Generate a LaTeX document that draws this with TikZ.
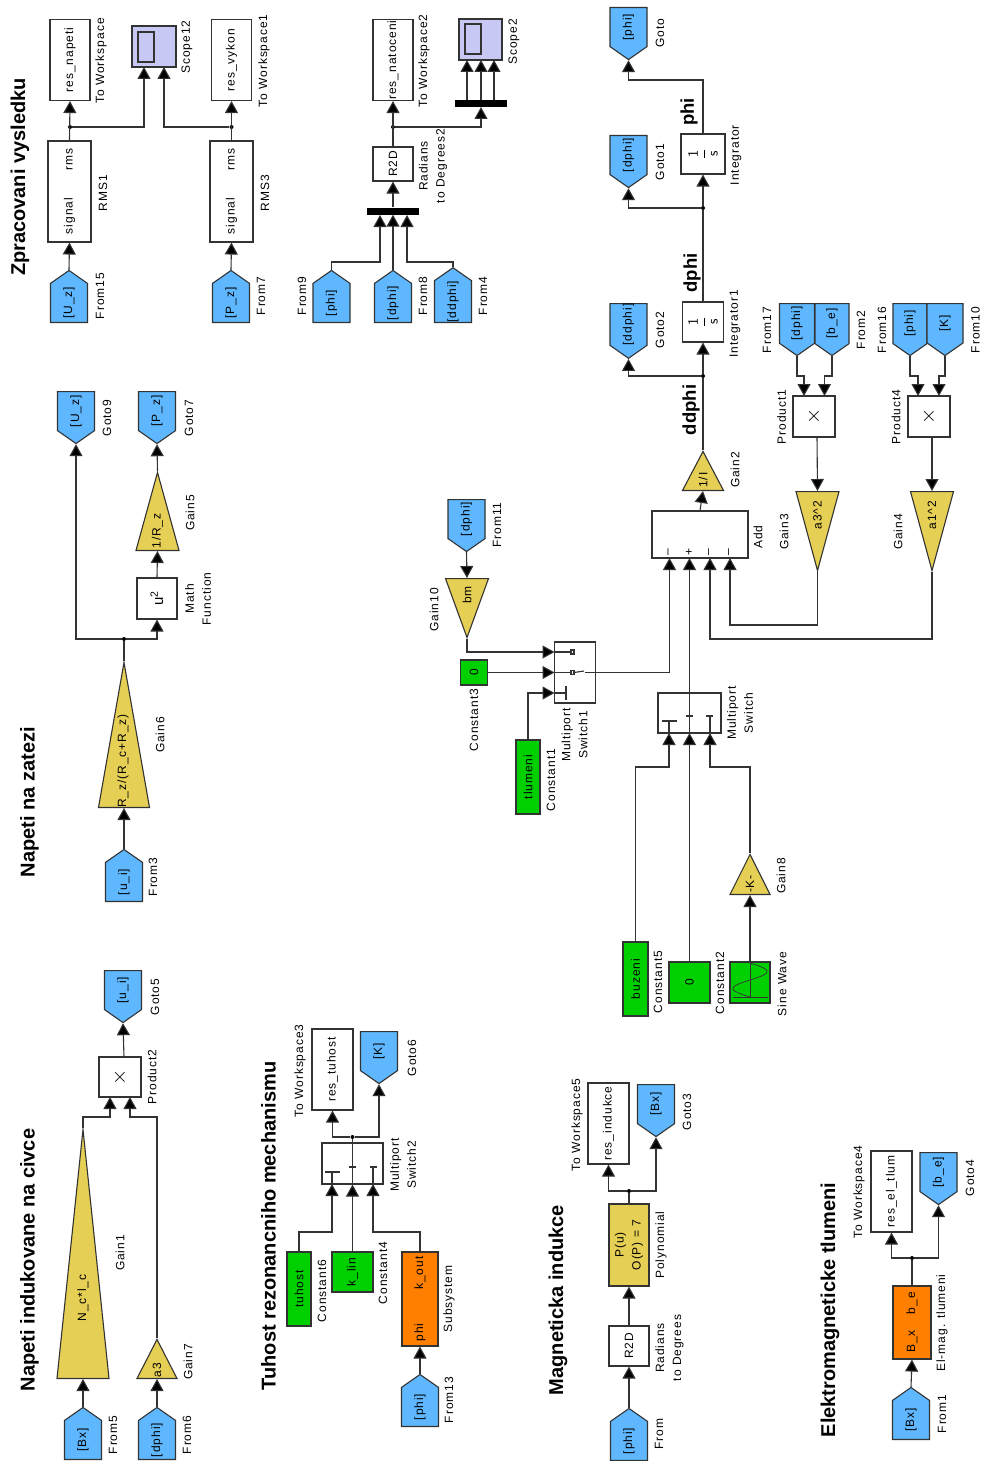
\documentclass[tikz,border=0pt]{standalone}
\usepackage{fontspec}
\setmainfont{Liberation Sans}
\newfontfamily\labfont[LetterSpace=8]{Liberation Sans}
\usetikzlibrary{arrows.meta,shapes.geometric,shapes.symbols}
\definecolor{wirecol}{HTML}{333333}
\definecolor{tagblue}{HTML}{5FB8FF}
\definecolor{gainyellow}{HTML}{E6CF55}
\definecolor{constgreen}{HTML}{00D000}
\definecolor{suborange}{HTML}{FF8000}
\definecolor{scopeblue}{HTML}{C8C8F5}
\tikzset{
  wire/.style = {draw = wirecol, line width = 1.1pt},
  sig/.style = {wire, -{Triangle[length = 12pt, width = 13pt, fill = black]}},
  smalltext/.style = {font = \labfont\fontsize{12}{17}\selectfont},
  lab/.style = {rotate = 90, inner sep = 0pt, align = center, smalltext},
  head/.style = {rotate = 90, inner sep = 0pt, font = \fontsize{20}{22}\bfseries},
  sighead/.style = {rotate = 90, inner sep = 0pt, font = \fontsize{18.5}{20}\bfseries},
  dims/.style 2 args = {minimum width = #1pt, minimum height = #2pt},
  blk/.style = {wire, fill = white, rotate = 90, inner sep = 0pt, align = center, smalltext},
  wsbox/.style = {blk, dims = {81}{40}},
  gainbox/.style = {blk, fill = gainyellow},
  constbox/.style = {blk, fill = constgreen},
  subbox/.style = {blk, fill = suborange},
  scopebox/.style = {blk, fill = scopeblue},
  bus/.style = {fill = black, rotate = 90, inner sep = 0pt, dims = {7}{52}},
  dot/.style = {circle, fill = black, inner sep = 0pt, minimum size = 4pt},
  tag/.style = {signal, wire, fill = tagblue, rotate = 90, inner sep = 0pt, smalltext,
    signal pointer angle = 110, signal from = nowhere, dims = {52}{37}},
  fromtag/.style = {tag, signal to = east, anchor = west},
  gototag/.style = {tag, signal to = west, anchor = east},
  gainup/.style 2 args = {isosceles triangle, isosceles triangle stretches, wire, fill = gainyellow,
    rotate = 90, inner sep = 0pt, anchor = lower side,
    minimum height = #1pt, minimum width = #2pt},
  gaindown/.style 2 args = {gainup = {#1}{#2}, shape border rotate = 180}
}
\begin{document}
\begin{tikzpicture}[x = 1pt, y = -1pt]
    \path [use as bounding box, fill = white] (0,0) rectangle (982,1461);

    % Zpracovani vysledku
    \node [head] (title1) at (20,177) {Zpracovani vysledku};
    \node [fromtag] (from15) at (69,323) {[U\_z]};
    \node [lab] (from15lab) at (100,296) {From15};
    \node [blk, dims = {101}{43}] (rms1) at (69.5,191.5) {signal\hspace{27pt}rms};
    \node [lab] (rms1lab) at (103,193) {RMS1};
    \node [wsbox] (resnapeti) at (70,60) {res\_napeti};
    \node [lab] (resnapetilab) at (101,61) {To Workspace};
    \node [scopebox, dims = {41}{44}] (scope12) at (154,46.5) {};
    \draw [wire] (138,32) rectangle (154,62);
    \node [lab] (scope12lab) at (187,47) {Scope12};
    \node [dot] (j1) at (70,127) {};
    \coordinate (scope12a) at (144,67);
    \coordinate (scope12b) at (164,67);
    \draw [sig] (from15.east) -- (rms1.west);
    \draw [sig] (rms1.east) -- (resnapeti.west);
    \draw [sig] (j1) -| (scope12a);

    \node [fromtag] (from7) at (231,323) {[P\_z]};
    \node [lab] (from7lab) at (261,296) {From7};
    \node [blk, dims = {101}{43}] (rms3) at (231.5,191.5) {signal\hspace{27pt}rms};
    \node [lab] (rms3lab) at (265,193) {RMS3};
    \node [wsbox] (resvykon) at (231.5,60) {res\_vykon};
    \node [lab] (resvykonlab) at (264,61) {To Workspace1};
    \node [dot] (j2) at (231.5,127) {};
    \draw [sig] (from7.east) -- (rms3.west);
    \draw [sig] (rms3.east) -- (resvykon.west);
    \draw [sig] (j2) -| (scope12b);

    \node [fromtag] (from9) at (331.5,323) {[phi]};
    \node [lab] (from9lab) at (302,296) {From9};
    \node [fromtag] (from8) at (393,323) {[dphi]};
    \node [lab] (from8lab) at (423,296) {From8};
    \node [fromtag] (from4) at (453,323) {[ddphi]};
    \node [lab] (from4lab) at (483,296) {From4};
    \node [bus] (mux1) at (393,211) {};
    \coordinate (mux1a) at (380,215);
    \coordinate (mux1c) at (407,215);
    \draw [sig] (from9.east) |- (371,262) -| (mux1a);
    \draw [sig] (from8.east) -- (mux1.west);
    \draw [sig] (from4.east) |- (416,262) -| (mux1c);
    \node [blk, dims = {34}{40}] (r2d1) at (393,164) {R2D};
    \node [lab] (r2d1lab) at (433,166) {Radians\\to Degrees2};
    \node [wsbox] (resnatoceni) at (393,60) {res\_natoceni};
    \node [lab] (resnatocenilab) at (424,61) {To Workspace2};
    \node [dot] (j3) at (393,127) {};
    \node [bus] (mux2) at (481,103.5) {};
    \coordinate (mux2in) at (481,107);
    \node [scopebox, dims = {41}{43}] (scope2) at (480.5,39.5) {};
    \draw [wire] (465,24) rectangle (481,54);
    \node [lab] (scope2lab) at (514,42) {Scope2};
    \coordinate (scope2a) at (467,60);
    \coordinate (scope2b) at (481,60);
    \coordinate (scope2c) at (494,60);
    \draw [sig] (mux1.east) -- (r2d1.west);
    \draw [sig] (r2d1.east) -- (resnatoceni.west);
    \draw [sig] (j3) -| (mux2in);
    \draw [sig] (467,100) -- (scope2a);
    \draw [sig] (481,100) -- (scope2b);
    \draw [sig] (494,100) -- (scope2c);

    % Napeti na zatezi
    \node [head] (title2) at (29.5,802) {Napeti na zatezi};
    \node [fromtag] (from3) at (124,902) {[u\_i]};
    \node [lab] (from3lab) at (153,877) {From3};
    \node [gainup = {145}{51}] (gain6) at (124,808) {};
    \node [lab] (gain6txt) at (123,761) {R\_z/(R\_c+R\_z)};
    \node [lab] (gain6lab) at (160,735) {Gain6};
    \node [dot] (j4) at (124,639) {};
    \node [blk, dims = {41}{40}] (math1) at (157,598.5) {\fontsize{15}{15}\selectfont u\textsuperscript{2}};
    \node [lab] (math1lab) at (198,599) {Math\\Function};
    \node [gainup = {78}{43}] (gain5) at (157.5,551) {};
    \node [lab] (gain5txt) at (157.5,531) {1/R\_z};
    \node [lab] (gain5lab) at (190,513) {Gain5};
    \node [gototag] (goto9) at (76,391) {[U\_z]};
    \node [lab] (goto9lab) at (107,418) {Goto9};
    \node [gototag] (goto7) at (157,391) {[P\_z]};
    \node [lab] (goto7lab) at (189,418) {Goto7};
    \draw [sig] (from3.east) -- (gain6.lower side);
    \draw [wire] (gain6.apex) -- (j4);
    \draw [sig] (j4) -| (goto9.west);
    \draw [sig] (j4) -| (math1.west);
    \draw [sig] (math1.east) -- (gain5.lower side);
    \draw [sig] (gain5.apex) -- (goto7.west);

    % Napeti indukovane na civce
    \node [head] (title3) at (29.5,1260) {Napeti indukovane na civce};
    \node [fromtag] (from5) at (83,1460) {[Bx]};
    \node [lab] (from5lab) at (113,1435) {From5};
    \node [gainup = {249}{52}] (gain1) at (83,1379) {};
    \node [lab] (gain1txt) at (83,1298) {N\_c*l\_c};
    \node [lab] (gain1lab) at (120,1253) {Gain1};
    \node [fromtag] (from6) at (157,1460) {[dphi]};
    \node [lab] (from6lab) at (187,1435) {From6};
    \node [gainup = {39}{40}] (gain7) at (157,1379) {};
    \node [lab] (gain7txt) at (157,1370) {a3};
    \node [lab] (gain7lab) at (188,1362) {Gain7};
    \node [blk, dims = {40}{42}] (product2) at (120,1077) {\huge$\times$};
    \node [lab] (product2lab) at (152,1077) {Product2};
    \node [gototag] (goto5) at (123,970) {[u\_i]};
    \node [lab] (goto5lab) at (155,997) {Goto5};
    \coordinate (product2a) at (110,1097);
    \coordinate (product2b) at (130,1097);
    \draw [sig] (from5.east) -- (gain1.lower side);
    \draw [sig] (from6.east) -- (gain7.lower side);
    \draw [sig] (gain1.apex) |- (96,1117) -| (product2a);
    \draw [sig] (gain7.apex) |- (144,1117) -| (product2b);
    \draw [sig] (124,1057) -- (goto5.west);

    % Tuhost rezonancniho mechanismu
    \node [head] (title4) at (268.5,1226) {Tuhost rezonancniho mechanismu};
    \node [constbox, dims = {74}{24}] (const6) at (299,1289) {tuhost};
    \node [lab] (const6lab) at (322,1291) {Constant6};
    \node [constbox, dims = {40}{41}] (const4) at (352.5,1272) {k\_lin};
    \node [lab] (const4lab) at (383,1273) {Constant4};
    \node [subbox, dims = {94}{36}] (subsys) at (420,1299) {phi\hspace{34pt}k\_out};
    \node [lab] (subsyslab) at (449,1299) {Subsystem};
    \node [fromtag] (from13) at (420,1427) {[phi]};
    \node [lab] (from13lab) at (449,1400) {From13};
    \node [blk, dims = {41}{61}] (switch2) at (352.5,1163.5) {};
    \draw [wire] (325,1172) -- (340,1172) (332,1172) -- (332,1184);
    \draw [wire, line width = 2pt] (349,1167) -- (356,1167) (370,1167) -- (377,1167);
    \draw [wire] (373,1167) -- (373,1184);
    \node [lab] (switch2lab) at (403,1165) {Multiport\\Switch2};
    \node [dot] (j5) at (352.5,1137) {};
    \node [blk, dims = {81}{41}] (restuhost) at (332.5,1069.5) {res\_tuhost};
    \node [lab] (restuhostlab) at (300,1071) {To Workspace3};
    \node [gototag] (goto6) at (379,1031) {[K]};
    \node [lab] (goto6lab) at (412,1058) {Goto6};
    \coordinate (switch2a) at (332,1184);
    \coordinate (switch2c) at (373,1184);
    \draw [sig] (from13.east) -- (subsys.west);
    \draw [sig] (const6.east) |- (315,1232) -| (switch2a);
    \draw [sig] (const4.east) -- (switch2.west);
    \draw [sig] (subsys.east) |- (397,1232) -| (switch2c);
    \draw [wire] (switch2.west) -- (j5);
    \draw [sig] (j5) -| (restuhost.west);
    \draw [sig] (j5) -| (goto6.west);

    % Magneticka indukce
    \node [head] (title5) at (558,1300) {Magneticka indukce};
    \node [fromtag] (from) at (629,1461) {[phi]};
    \node [lab] (fromlab) at (659,1434) {From};
    \node [blk, dims = {40}{40}] (r2d2) at (629,1346) {R2D};
    \node [lab] (r2d2lab) at (669.5,1348) {Radians\\to Degrees};
    \node [gainbox, dims = {82}{40}] (poly) at (629,1245) {P(u)\\O(P) = 7};
    \node [lab] (polylab) at (661,1245) {Polynomial};
    \node [dot] (j6) at (629,1191) {};
    \node [blk, dims = {81}{41}] (resindukce) at (608.5,1123.5) {res\_indukce};
    \node [lab] (resindukcelab) at (577,1125) {To Workspace5};
    \node [gototag] (goto3) at (656,1084) {[Bx]};
    \node [lab] (goto3lab) at (687,1112) {Goto3};
    \draw [sig] (from.east) -- (r2d2.west);
    \draw [sig] (r2d2.east) -- (poly.west);
    \draw [wire] (poly.east) -- (j6);
    \draw [sig] (j6) -| (resindukce.west);
    \draw [sig] (j6) -| (goto3.west);

    % Elektromagneticke tlumeni
    \node [head] (title6) at (830,1310) {Elektromagneticke tlumeni};
    \node [fromtag] (from1) at (911,1440) {[Bx]};
    \node [lab] (from1lab) at (942,1414) {From1};
    \node [subbox, dims = {73}{38}] (elmag) at (912,1322.5) {B\_x\hspace{16pt}b\_e};
    \node [lab] (elmaglab) at (942,1323) {El-mag. tlumeni};
    \node [dot] (j7) at (912,1258) {};
    \node [blk, dims = {81}{41}] (reseltlum) at (891.5,1191.5) {res\_el\_tlum};
    \node [lab] (reseltlumlab) at (859,1192) {To Workspace4};
    \node [gototag] (goto4) at (938.5,1152) {[b\_e]};
    \node [lab] (goto4lab) at (970,1178) {Goto4};
    \draw [sig] (from1.east) -- (elmag.west);
    \draw [wire] (elmag.east) -- (j7);
    \draw [sig] (j7) -| (reseltlum.west);
    \draw [sig] (j7) -| (goto4.west);

    % hlavni smycka
    \node [constbox, dims = {74}{25}] (const5b) at (635.5,979) {buzeni};
    \node [lab] (const5blab) at (658,982) {Constant5};
    \node [constbox, dims = {41}{41}] (const2) at (689.5,982.5) {0};
    \node [lab] (const2lab) at (720,983) {Constant2};
    \node [constbox, dims = {41}{40}] (sine) at (750,982.5) {};
    \draw [wire, line width = 0.7pt] (733,997) -- (768,997) (750,963) -- (750,998);
    \draw [wire, line width = 0.7pt] plot [domain = 0:360, samples = 40] ({750+17*sin(\x)},{963+34*\x/360});
    \node [lab] (sinelab) at (782,984) {Sine Wave};
    \node [gainup = {40}{40}] (gain8) at (750,895) {};
    \node [lab] (gain8txt) at (750,884) {-K-};
    \node [lab] (gain8lab) at (781,876) {Gain8};
    \node [blk, dims = {40}{63}] (switch0) at (689.5,713) {};
    \draw [wire] (662,721) -- (677,721);
    \draw [wire, line width = 2pt] (686,716) -- (693,716) (706,716) -- (713,716);
    \draw [wire] (669,721) -- (669,733) (710,716) -- (710,733);
    \node [lab] (switch0lab) at (740,713) {Multiport\\Switch};
    \coordinate (switch0a) at (669,733);
    \coordinate (switch0b) at (689.5,733);
    \coordinate (switch0c) at (710,733);
    \draw [sig] (const5b.east) |- (652,767) -| (switch0a);
    \draw [sig] (const2.east) -- (switch0b);
    \draw [sig] (sine.east) -- (gain8.lower side);
    \draw [sig] (gain8.apex) |- (730,767) -| (switch0c);

    \node [constbox, dims = {74}{24}] (const1) at (528,777) {tlumeni};
    \node [lab] (const1lab) at (551,780) {Constant1};
    \node [constbox, dims = {25}{27}] (const3) at (474,672.5) {0};
    \node [lab] (const3lab) at (474,720) {Constant3};
    \node [gototag] (from11) at (466.5,499) {[dphi]};
    \node [lab] (from11lab) at (497,525) {From11};
    \node [gaindown = {59}{43}] (gain10) at (467,578) {};
    \node [lab] (gain10txt) at (467,595) {bm};
    \node [lab] (gain10lab) at (434,610) {Gain10};
    \node [blk, dims = {61}{41}] (switch1) at (575,672.5) {};
    \draw [wire] (554,652) -- (571,652) (554,672.5) -- (571,672.5) (554,693) -- (566,693);
    \draw [wire] (566,686) -- (566,700);
    \draw [wire] (574,672.5) -- (584,671);
    \draw [wire, fill = white] (571,650) rectangle (574,654) (571,670.5) rectangle (574,674.5);
    \node [lab] (switch1lab) at (574.5,735) {Multiport\\Switch1};
    \coordinate (switch1a) at (554.5,652);
    \coordinate (switch1b) at (554.5,672.5);
    \coordinate (switch1c) at (554.5,693);
    \draw [sig] (from11.west) -- (gain10.lower side);
    \draw [sig] (gain10.apex) |- (switch1a);
    \draw [sig] (const3.south) -- (switch1b);
    \draw [sig] (const1.east) |- (switch1c);

    \node [blk, dims = {47}{96}] (add1) at (700,534.5) {};
    \node [lab] (addsign1) at (669.5,552) {\textendash};
    \node [lab] (addsign2) at (689.5,552) {+};
    \node [lab] (addsign3) at (710,552) {\textendash};
    \node [lab] (addsign4) at (730,552) {\textendash};
    \node [lab] (add1lab) at (758,537) {Add};
    \coordinate (add1a) at (669.5,558);
    \coordinate (add1b) at (689.5,558);
    \coordinate (add1c) at (710,558);
    \coordinate (add1d) at (730,558);
    \coordinate (swout) at (585,672.5);
    \draw [sig] (swout) -| (add1a);
    \draw [sig] (switch0b) -- (add1b);

    \node [gainup = {39}{41}] (gain2) at (703,491) {};
    \node [lab] (gain2txt) at (703,480) {1/I};
    \node [lab] (gain2lab) at (735,470) {Gain2};
    \node [dot] (j8) at (703,376) {};
    \node [blk, dims = {40}{41}] (integ1) at (703,322) {\Large$\displaystyle\frac{\mathsf{1}}{\mathsf{s}}$};
    \node [lab] (integ1lab) at (735,324) {Integrator1};
    \node [dot] (j9) at (703,208) {};
    \node [blk, dims = {40}{44}] (integ) at (703,154) {\Large$\displaystyle\frac{\mathsf{1}}{\mathsf{s}}$};
    \node [lab] (integlab) at (736,155) {Integrator};
    \node [gototag] (goto2) at (628.5,303) {[ddphi]};
    \node [lab] (goto2lab) at (660,330) {Goto2};
    \node [gototag] (goto1) at (628.5,135) {[dphi]};
    \node [lab] (goto1lab) at (660,162) {Goto1};
    \node [gototag] (goto0) at (628.5,7) {[phi]};
    \node [lab] (goto0lab) at (660,33) {Goto};
    \node [sighead] (ddphilab) at (691,410) {ddphi};
    \node [sighead] (dphilab) at (692,273) {dphi};
    \node [sighead] (philab) at (689,112) {phi};
    \draw [sig] (add1.east) -- (gain2.lower side);
    \draw [wire] (gain2.apex) -- (j8);
    \draw [sig] (j8) -- (integ1.west);
    \draw [wire] (integ1.east) -- (j9);
    \draw [sig] (j9) -- (integ.west);
    \draw [sig] (j8) -| (goto2.west);
    \draw [sig] (j9) -| (goto1.west);
    \draw [sig] (integ.east) |- (665,80) -| (goto0.west);

    \node [gototag, dims = {52}{35}] (from17) at (797,303) {[dphi]};
    \node [lab] (from17lab) at (767,330) {From17};
    \node [gototag, dims = {52}{34}] (from2) at (832,303) {[b\_e]};
    \node [lab] (from2lab) at (861,330) {From2};
    \node [blk, dims = {41}{42}] (product1) at (814,416.5) {\huge$\times$};
    \node [lab] (product1lab) at (781.5,417) {Product1};
    \node [gaindown = {79}{43}] (gain3) at (817.5,491) {};
    \node [lab] (gain3txt) at (817.5,515) {a3\textasciicircum 2};
    \node [lab] (gain3lab) at (784,532) {Gain3};
    \coordinate (product1a) at (804,396);
    \coordinate (product1b) at (824.5,396);
    \draw [sig] (from17.west) |- (800,376) -| (product1a);
    \draw [sig] (from2.west) |- (828,376) -| (product1b);
    \draw [sig] (817,437) -- (gain3.lower side);
    \draw [sig] (gain3.apex) |- (773,625) -| (add1d);

    \node [gototag, dims = {52}{34}] (from16) at (910,303) {[phi]};
    \node [lab] (from16lab) at (882,330) {From16};
    \node [gototag, dims = {52}{36}] (from10) at (945,303) {[K]};
    \node [lab] (from10lab) at (975.5,330) {From10};
    \node [blk, dims = {41}{42}] (product4) at (929,416.5) {\huge$\times$};
    \node [lab] (product4lab) at (896,417) {Product4};
    \node [gaindown = {79}{43}] (gain4) at (932,491) {};
    \node [lab] (gain4txt) at (932,515) {a1\textasciicircum 2};
    \node [lab] (gain4lab) at (898,532) {Gain4};
    \coordinate (product4a) at (918,396);
    \coordinate (product4b) at (939,396);
    \draw [sig] (from16.west) |- (915,376) -| (product4a);
    \draw [sig] (from10.west) |- (942,376) -| (product4b);
    \draw [sig] (932,437) -- (gain4.lower side);
    \draw [sig] (gain4.apex) |- (820,639) -| (add1c);
\end{tikzpicture}
\end{document}
